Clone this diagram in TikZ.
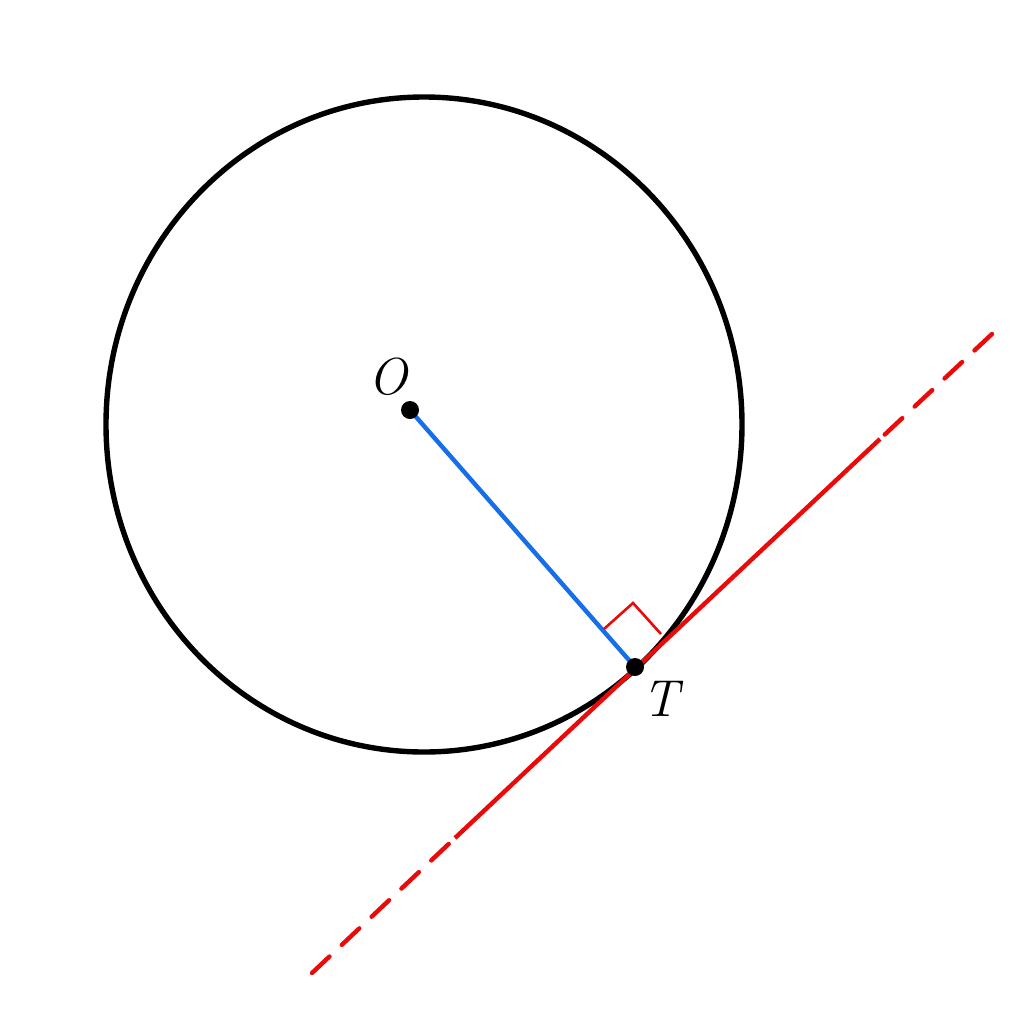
\documentclass[tikz,border=0pt]{standalone}
\usetikzlibrary{calc}
\definecolor{radblue}{RGB}{22,110,235}
\definecolor{tanred}{RGB}{235,10,10}
\begin{document}
\begin{tikzpicture}[x=0.5pt,y=-0.5pt,
  circ/.style={line width=2.7pt,black},
  radius line/.style={line width=2.2pt,radblue},
  tangent/.style={line width=2.2pt,tanred},
  tandash/.style={line width=2.2pt,tanred,line cap=round,dash pattern=on 12pt off 8.5pt},
  marker/.style={line width=1.3pt,tanred},
  dotpt/.style={circle,fill=black,inner sep=0pt,minimum size=9pt},
  lbl/.style={font=\fontsize{26}{30}\selectfont\itshape}]
\useasboundingbox (0,0) rectangle (1024,1024);
\fill[white] (0,0) rectangle (1024,1024);
\draw[circ] (424,424.5) ellipse [x radius=318, y radius=327.5];
\coordinate (Oc) at (410,410);
\coordinate (Tc) at (635,667);
\coordinate (A) at (312,973);
\coordinate (B) at (455,838);
\coordinate (C) at (880,439);
\coordinate (D) at (992,334);
\draw[radius line] (Oc) -- (Tc);
\draw[tangent] (B) -- (C);
\draw[tandash] (A) -- (B);
\draw[tandash] (D) -- (C);
\coordinate (M1) at (604,629);
\coordinate (M2) at (633,603);
\coordinate (M3) at (661,634);
\draw[marker] (M1) -- (M2) -- (M3);
\node[dotpt] (O) at (Oc) {};
\node[dotpt] (T) at (Tc) {};
\node[lbl] (Ol) at (388,377) {O};
\node[lbl] (Tl) at (661,699) {T};
\end{tikzpicture}
\end{document}
